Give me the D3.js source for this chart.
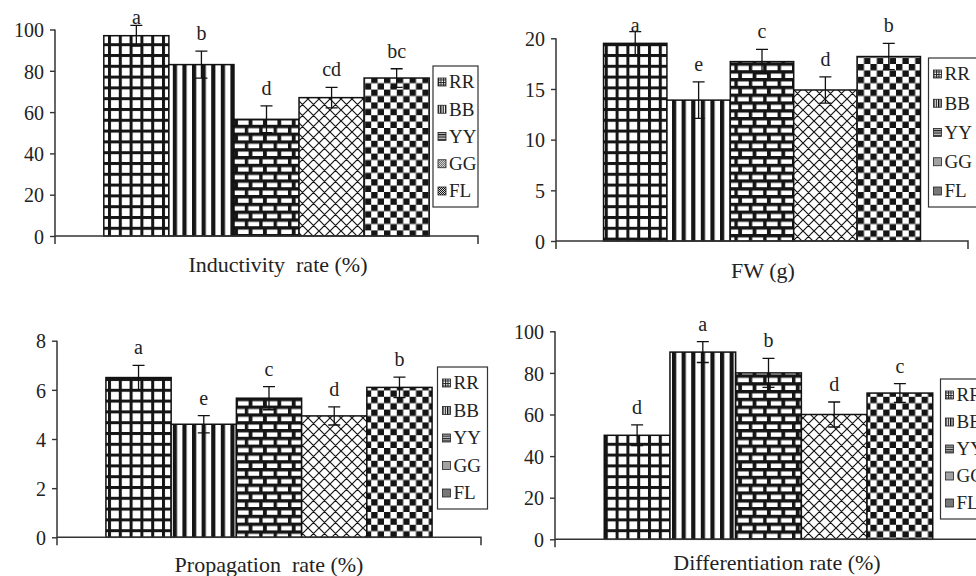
<!DOCTYPE html>
<html lang="en">
<head>
  <meta charset="utf-8">
  <script src="https://d3js.org/d3.v7.min.js"></script>
  <style>
    html, body {
      margin: 0;
      padding: 0;
      background: #fff;
    }

    svg {
      display: block;
      font-family: "Liberation Serif", "Times New Roman", serif;
    }

    .tick text {
      font-size: 20px;
      fill: #222;
    }

    .tick line {
      stroke: #333;
      stroke-width: 1.4px;
    }

    .axis-line {
      stroke: #333;
      stroke-width: 1.5px;
      fill: none;
    }

    .bar {
      stroke: #111;
      stroke-width: 1.5px;
    }

    .err {
      stroke: #111;
      stroke-width: 1.3px;
      fill: none;
    }

    .letter {
      font-size: 20px;
      fill: #222;
      text-anchor: middle;
    }

    .title {
      font-size: 22px;
      fill: #222;
      text-anchor: middle;
      white-space: pre;
    }

    .legend-box {
      fill: #fff;
      stroke: #333;
      stroke-width: 1.2px;
    }

    .legend text {
      font-size: 19px;
      fill: #222;
    }
  </style>
</head>
<body>
<div id="chart"></div>
<script>
  // treatments (same order in every panel)
  var groups = ["RR", "BB", "YY", "GG", "FL"];

  // Inductivity rate (%)
  var inductivity = [97, 83, 56.5, 67, 76.5];
  var inductivityErr = [5, 6.5, 6.5, 5, 4.5];
  var inductivityLetters = ["a", "b", "d", "cd", "bc"];
  var inductivityTicks = [0, 20, 40, 60, 80, 100];

  // FW (g)
  var fw = [19.5, 13.9, 17.7, 14.9, 18.2];
  var fwErr = [1.15, 1.8, 1.2, 1.3, 1.3];
  var fwLetters = ["a", "e", "c", "d", "b"];
  var fwTicks = [0, 5, 10, 15, 20];

  // Propagation rate (%)
  var propagation = [6.5, 4.6, 5.66, 4.94, 6.1];
  var propagationErr = [0.5, 0.35, 0.47, 0.37, 0.42];
  var propagationLetters = ["a", "e", "c", "d", "b"];
  var propagationTicks = [0, 2, 4, 6, 8];

  // Differentiation rate (%)
  var differentiation = [50, 90, 80, 60, 70.3];
  var differentiationErr = [5, 5, 7, 6, 4.5];
  var differentiationLetters = ["d", "a", "b", "d", "c"];
  var differentiationTicks = [0, 20, 40, 60, 80, 100];

  var width = 976, height = 576;

  var svg = d3.select("#chart").append("svg")
          .attr("width", width)
          .attr("height", height);

  var defs = svg.append("defs");

  // --- bar fill patterns ---
  function pattern(id, w, h) {
    return defs.append("pattern")
            .attr("id", id)
            .attr("patternUnits", "userSpaceOnUse")
            .attr("width", w)
            .attr("height", h);
  }

  // RR: grid
  var p = pattern("pRR", 10.8, 10.8);
  p.append("rect").attr("width", 10.8).attr("height", 10.8).attr("fill", "#fff");
  p.append("rect").attr("width", 3).attr("height", 10.8).attr("fill", "#151515");
  p.append("rect").attr("width", 10.8).attr("height", 3).attr("fill", "#151515");

  // BB: vertical stripes
  p = pattern("pBB", 9.6, 10);
  p.append("rect").attr("width", 9.6).attr("height", 10).attr("fill", "#fff");
  p.append("rect").attr("width", 4.2).attr("height", 10).attr("fill", "#151515");

  // YY: bricks
  p = pattern("pYY", 14.4, 15.6);
  p.append("rect").attr("width", 14.4).attr("height", 15.6).attr("fill", "#151515");
  p.append("rect").attr("x", 3.4).attr("y", 3.4).attr("width", 11).attr("height", 4.4).attr("fill", "#fff");
  p.append("rect").attr("x", 0).attr("y", 11.2).attr("width", 3.8).attr("height", 4.4).attr("fill", "#fff");
  p.append("rect").attr("x", 7.6).attr("y", 11.2).attr("width", 6.8).attr("height", 4.4).attr("fill", "#fff");

  // GG: diagonal cross-hatch
  p = pattern("pGG", 11, 11);
  p.append("rect").attr("width", 11).attr("height", 11).attr("fill", "#fff");
  p.append("path").attr("d", "M0,0L11,11M11,0L0,11M-1,10L1,12M10,-1L12,1M-1,1L1,-1M10,12L12,10")
          .attr("stroke", "#151515").attr("stroke-width", 1.2);

  // FL: checkerboard
  p = pattern("pFL", 12.8, 12.8);
  p.append("rect").attr("width", 12.8).attr("height", 12.8).attr("fill", "#fff");
  p.append("rect").attr("width", 6.4).attr("height", 6.4).attr("fill", "#151515");
  p.append("rect").attr("x", 6.4).attr("y", 6.4).attr("width", 6.4).attr("height", 6.4).attr("fill", "#151515");

  // --- small legend icon patterns ---
  p = pattern("iRR", 2.5, 2.5);
  p.append("rect").attr("width", 2.5).attr("height", 2.5).attr("fill", "#fff");
  p.append("rect").attr("width", 1).attr("height", 2.5).attr("fill", "#222");
  p.append("rect").attr("width", 2.5).attr("height", 1).attr("fill", "#222");

  p = pattern("iBB", 2.4, 3);
  p.append("rect").attr("width", 2.4).attr("height", 3).attr("fill", "#fff");
  p.append("rect").attr("width", 1.3).attr("height", 3).attr("fill", "#111");

  p = pattern("iYY", 3, 2.4);
  p.append("rect").attr("width", 3).attr("height", 2.4).attr("fill", "#bbb");
  p.append("rect").attr("width", 3).attr("height", 1.1).attr("fill", "#222");

  p = pattern("iGG", 2, 2);
  p.append("rect").attr("width", 2).attr("height", 2).attr("fill", "#fff");
  p.append("rect").attr("width", 1).attr("height", 1).attr("fill", "#444");
  p.append("rect").attr("x", 1).attr("y", 1).attr("width", 1).attr("height", 1).attr("fill", "#444");

  p = pattern("iFL", 2, 2);
  p.append("rect").attr("width", 2).attr("height", 2).attr("fill", "#ddd");
  p.append("rect").attr("width", 1).attr("height", 1).attr("fill", "#111");
  p.append("rect").attr("x", 1).attr("y", 1).attr("width", 1).attr("height", 1).attr("fill", "#111");

  var panels = [
    {values: inductivity, errs: inductivityErr, letters: inductivityLetters, ticks: inductivityTicks,
      title: "Inductivity  rate (%)", x0: 55, x1: 478, yBottom: 236, yTop: 29.5,
      legend: {x: 433, y: 66, w: 45, h: 141}, titleX: 278, titleY: 272},
    {values: fw, errs: fwErr, letters: fwLetters, ticks: fwTicks,
      title: "FW (g)", x0: 556, x1: 968, yBottom: 241, yTop: 38.3,
      legend: {x: 928.5, y: 58, w: 62, h: 149}, titleX: 763, titleY: 278},
    {values: propagation, errs: propagationErr, letters: propagationLetters, ticks: propagationTicks,
      title: "Propagation  rate (%)", x0: 57, x1: 481, yBottom: 537.3, yTop: 340.7,
      legend: {x: 437.5, y: 367, w: 50, h: 142}, titleX: 269, titleY: 572},
    {values: differentiation, errs: differentiationErr, letters: differentiationLetters, ticks: differentiationTicks,
      title: "Differentiation rate (%)", x0: 555, x1: 982, yBottom: 539.3, yTop: 331.3,
      legend: {x: 940.5, y: 379, w: 62, h: 140}, titleX: 777, titleY: 570}
  ];

  panels.forEach(drawPanel);

  function drawPanel(cfg) {
    var g = svg.append("g");
    var data = groups.map(function (k, i) {
      return {key: k, value: cfg.values[i], err: cfg.errs[i], letter: cfg.letters[i]};
    });

    var x = d3.scaleBand().domain(groups).range([cfg.x0, cfg.x1])
            .paddingInner(0).paddingOuter(0.75);
    var y = d3.scaleLinear().domain([0, d3.max(cfg.ticks)]).range([cfg.yBottom, cfg.yTop]);

    // bars
    g.selectAll(".bar")
            .data(data)
            .enter().append("rect")
            .attr("class", "bar")
            .attr("x", function (d) { return x(d.key); })
            .attr("y", function (d) { return y(d.value); })
            .attr("width", x.bandwidth())
            .attr("height", function (d) { return y(0) - y(d.value); })
            .attr("fill", function (d) { return "url(#p" + d.key + ")"; });

    // error bars
    var cap = 6;
    g.selectAll(".err")
            .data(data)
            .enter().append("path")
            .attr("class", "err")
            .attr("d", function (d) {
              var cx = x(d.key) + x.bandwidth() / 2;
              var t = y(d.value + d.err), b = y(d.value - d.err);
              return "M" + cx + "," + t + "V" + b +
                      "M" + (cx - cap) + "," + t + "H" + (cx + cap) +
                      "M" + (cx - cap) + "," + b + "H" + (cx + cap);
            });

    // significance letters
    g.selectAll(".letter")
            .data(data)
            .enter().append("text")
            .attr("class", "letter")
            .attr("x", function (d) { return x(d.key) + x.bandwidth() / 2; })
            .attr("y", function (d) { return Math.max(y(d.value + d.err) - 11, cfg.yTop - 6); })
            .text(function (d) { return d.letter; });

    // y axis ticks
    var yAxis = d3.axisLeft(y).tickValues(cfg.ticks).tickSize(5).tickPadding(6)
            .tickFormat(d3.format("d"));
    var gy = g.append("g")
            .attr("transform", "translate(" + cfg.x0 + ",0)")
            .call(yAxis);
    gy.select(".domain").remove();
    gy.attr("font-family", null).attr("font-size", null);
    gy.selectAll(".tick text").attr("dy", "0.36em");

    // axis lines
    g.append("path")
            .attr("class", "axis-line")
            .attr("d", "M" + cfg.x0 + "," + cfg.yTop + "V" + (cfg.yBottom + 8));
    g.append("path")
            .attr("class", "axis-line")
            .attr("d", "M" + cfg.x0 + "," + cfg.yBottom + "H" + cfg.x1 + "V" + (cfg.yBottom + 8));

    // title
    g.append("text")
            .attr("class", "title")
            .attr("x", cfg.titleX)
            .attr("y", cfg.titleY)
            .text(cfg.title);

    // legend
    var L = cfg.legend;
    var lg = g.append("g").attr("class", "legend");
    lg.append("rect")
            .attr("class", "legend-box")
            .attr("x", L.x).attr("y", L.y)
            .attr("width", L.w).attr("height", L.h);
    var step = (L.h - 32) / (groups.length - 1);
    var items = lg.selectAll(".item")
            .data(groups)
            .enter().append("g")
            .attr("transform", function (d, i) {
              return "translate(" + L.x + "," + (L.y + 16 + i * step) + ")";
            });
    items.append("rect")
            .attr("x", 5).attr("y", -4)
            .attr("width", 8).attr("height", 8)
            .attr("fill", function (d) { return "url(#i" + d + ")"; })
            .attr("stroke", "#222").attr("stroke-width", 0.8);
    items.append("text")
            .attr("x", 16)
            .attr("dy", "0.34em")
            .text(function (d) { return d; });
  }
</script>
</body>
</html>
